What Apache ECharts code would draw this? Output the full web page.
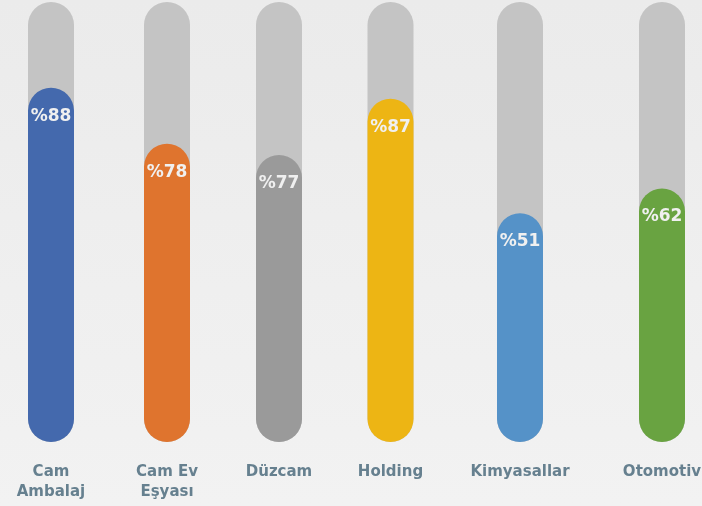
<!DOCTYPE html>
<html>
<head>
<meta charset="utf-8">
<script src="https://cdn.jsdelivr.net/npm/echarts@6/dist/echarts.min.js"></script>
<style>
html,body{margin:0;padding:0;}
#chart{width:702px;height:506px;background:linear-gradient(#ebebeb,#f2f2f2);}
</style>
</head>
<body>
<div id="chart"></div>
<script>
// Data
var categories = ['Cam\nAmbalaj', 'Cam Ev\nEşyası', 'Düzcam', 'Holding', 'Kimyasallar', 'Otomotiv'];
var percentLabels = [88, 78, 77, 87, 51, 62];
// fill level of each bar as drawn in the picture (percent of the full track)
var fillLevels = [80.5, 67.8, 65.2, 78.0, 52.0, 57.6];
var barColors = ['#4469ad', '#df742e', '#9a9a9a', '#edb514', '#5592c8', '#69a341'];

// Layout (bar centres in pixels)
var centers = [51, 167, 279, 390.5, 520, 662];
var barW = 46;

var grids = [], xAxes = [], yAxes = [], series = [];
categories.forEach(function (cat, i) {
  grids.push({left: centers[i] - barW / 2, width: barW, top: 2, height: 440,
              containLabel: false, outerBoundsMode: 'none'});
  xAxes.push({
    type: 'category', gridIndex: i, data: [cat],
    axisLine: {show: false}, axisTick: {show: false},
    axisLabel: {
      margin: 20, color: '#66808f', fontFamily: 'DejaVu Sans', fontWeight: 'bold',
      fontSize: 15, lineHeight: 20, interval: 0
    }
  });
  yAxes.push({type: 'value', gridIndex: i, min: 0, max: 100, show: false, splitLine: {show: false}});
  series.push({
    type: 'bar', xAxisIndex: i, yAxisIndex: i,
    data: [fillLevels[i]],
    barWidth: barW,
    showBackground: true,
    backgroundStyle: {color: '#c4c4c4', borderRadius: barW / 2},
    itemStyle: {color: barColors[i], borderRadius: barW / 2},
    label: {
      show: true, position: 'insideTop', distance: 20,
      formatter: '%' + percentLabels[i],
      color: '#f0f0f0', fontFamily: 'DejaVu Sans', fontWeight: 'bold', fontSize: 17
    },
    animation: false
  });
});

var chart = echarts.init(document.getElementById('chart'), null, {renderer: 'canvas'});
chart.setOption({
  backgroundColor: 'transparent',
  animation: false,
  grid: grids,
  xAxis: xAxes,
  yAxis: yAxes,
  series: series
});
</script>
</body>
</html>
